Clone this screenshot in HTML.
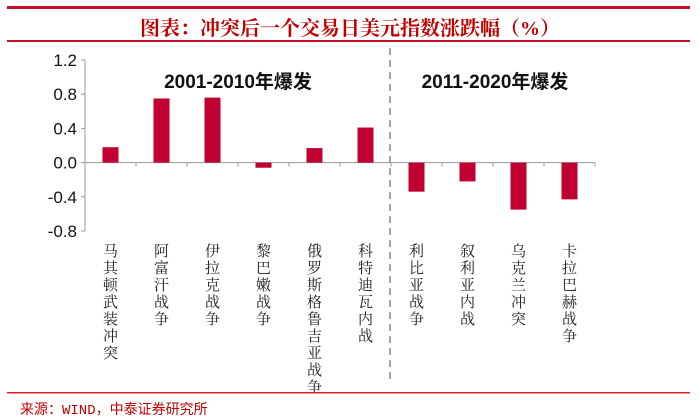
<!DOCTYPE html>
<html><head><meta charset="utf-8"><style>
body{margin:0;background:#fff;width:700px;height:420px;overflow:hidden;font-family:"Liberation Sans","Noto Sans CJK SC",sans-serif}
svg{display:block}
</style></head><body>
<svg width="700" height="420">
<rect x="7" y="6" width="683" height="3" fill="#c8102e"/>
<text x="350" y="35" text-anchor="middle" font-size="20" font-weight="bold" fill="#c00000" font-family="Liberation Serif,Noto Serif CJK SC,serif">图表：冲突后一个交易日美元指数涨跌幅（%）</text>
<rect x="7" y="40" width="683" height="2" fill="#c8102e"/>
<g id="axes"></g>
<text x="238" y="88" text-anchor="middle" font-size="19" font-weight="bold" fill="#111">2001-2010年爆发</text>
<text x="495" y="88" text-anchor="middle" font-size="19" font-weight="bold" fill="#111">2011-2020年爆发</text>
<line x1="390" y1="48" x2="390" y2="384" stroke="#777" stroke-width="1.3" stroke-dasharray="7,5"/>
<rect x="7" y="392" width="683" height="1.5" fill="#e02020"/>
<text x="20" y="414" font-size="14" fill="#c00000" font-family="Liberation Mono,Noto Sans CJK SC,monospace">来源：WIND，中泰证券研究所</text>
</svg>
<script>
const categories=["马其顿武装冲突","阿富汗战争","伊拉克战争","黎巴嫩战争","俄罗斯格鲁吉亚战争","科特迪瓦内战","利比亚战争","叙利亚内战","乌克兰冲突","卡拉巴赫战争"];
const values=[0.18,0.75,0.76,-0.06,0.17,0.41,-0.34,-0.22,-0.55,-0.43];
const yTicks=[1.2,0.8,0.4,0.0,-0.4,-0.8];
const yTickLabels=["1.2","0.8","0.4","0.0","-0.4","-0.8"];
const NS="http://www.w3.org/2000/svg";
const g=document.getElementById("axes");
const x0=85,x1=595,yTop=60,yBot=231;
const band=(x1-x0)/categories.length;
function y(v){return yBot-(v-(-0.8))/(2.0)*(yBot-yTop);}
function xc(i){return x0+band*(i+0.5);}
function mk(t,a){const e=document.createElementNS(NS,t);for(const k in a)e.setAttribute(k,a[k]);g.appendChild(e);return e;}
let ax=mk("line",{x1:x0,y1:yTop,x2:x0,y2:yBot,stroke:"#999"});


yTicks.forEach((v,i)=>{
 const t=mk("line",{x1:x0-4,y1:y(v),x2:x0,y2:y(v),stroke:"#999"});
 
 
 const l=mk("text",{x:x0-8,y:y(v)+6,"text-anchor":"end","font-size":"17",fill:"#111"});
 l.textContent=yTickLabels[i];
 
 
});
let xa=mk("line",{x1:x0,y1:y(0),x2:x1,y2:y(0),stroke:"#999"});


categories.forEach((c,i)=>{
 const tx=x0+band*(i+1);
 const t=mk("line",{x1:tx,y1:y(0),x2:tx,y2:y(0)+4,stroke:"#999"});
 
 
 const v=values[i];
 const b=mk("rect",{x:xc(i)-8,y:Math.min(y(v),y(0)),width:16,height:Math.abs(y(v)-y(0)),fill:"#c00030"});
 
 
 const l=mk("text",{"font-size":"15",fill:"#222","font-family":"Noto Serif CJK SC,serif","text-anchor":"middle"});
 
 
 [...c].forEach((ch,j)=>{const s=document.createElementNS(NS,"tspan");s.setAttribute("x",xc(i));s.setAttribute("y",256+j*17);s.textContent=ch;l.appendChild(s);});
});
</script>
</body></html>
